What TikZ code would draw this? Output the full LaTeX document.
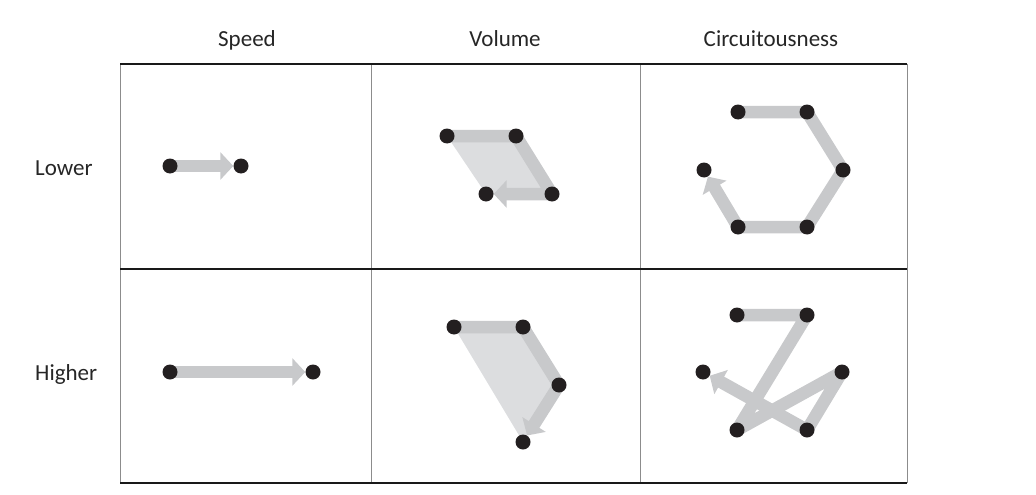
\documentclass[tikz,border=0pt]{standalone}
\usepackage{fontspec}
\setmainfont{Carlito}
\usetikzlibrary{arrows.meta,backgrounds}
\definecolor{trail}{HTML}{C8C9CB}
\definecolor{area}{HTML}{DCDDDF}
\definecolor{spot}{HTML}{231F20}
\begin{document}
\begin{tikzpicture}[x=1pt,y=-1pt,
  dot/.style={circle,fill=spot,inner sep=0pt,minimum size=15pt},
  trip/.style={draw=trail,line width=12.5pt,line join=bevel,
    -{Triangle[length=13pt,width=27pt]}},
  leg/.style={draw=trail,line width=12.5pt,line join=bevel},
  hline/.style={line width=1.1pt,black!90},
  vline/.style={line width=1pt,black!45},
  lab/.style={font=\fontsize{23}{27}\selectfont,text=black!85,inner sep=0pt}]
\useasboundingbox (0,0) rectangle (1036,495);

% table
\draw[vline] (120,64) -- (120,483);
\draw[vline] (371,64) -- (371,483);
\draw[vline] (640,64) -- (640,483);
\draw[vline] (907,64) -- (907,483);
\draw[hline] (120,64) -- (907,64);
\draw[hline] (120,269) -- (907,269);
\draw[hline] (120,483) -- (907,483);

\node[lab,anchor=base] (speed) at (247,47) {Speed};
\node[lab,anchor=base] (volume) at (505,47) {Volume};
\node[lab,anchor=base] (circ) at (771,47) {Circuitousness};
\node[lab,anchor=base west] (lower) at (35,175) {Lower};
\node[lab,anchor=base west] (higher) at (35,380) {Higher};

% speed
\node[dot] (sl1) at (170,166) {};
\node[dot] (sl2) at (241,166) {};
\node[dot] (sh1) at (170,372) {};
\node[dot] (sh2) at (313,372) {};

% volume
\node[dot] (vl1) at (447,136) {};
\node[dot] (vl2) at (516,136) {};
\node[dot] (vl3) at (552,194) {};
\node[dot] (vl4) at (486,194) {};
\node[dot] (vh1) at (454,327) {};
\node[dot] (vh2) at (523,327) {};
\node[dot] (vh3) at (559,385) {};
\node[dot] (vh4) at (523,442) {};

% circuitousness
\node[dot] (cl1) at (738,112) {};
\node[dot] (cl2) at (807,112) {};
\node[dot] (cl3) at (843,170) {};
\node[dot] (cl4) at (807,227) {};
\node[dot] (cl5) at (738,227) {};
\node[dot] (cl6) at (704,170) {};
\node[dot] (ch1) at (737,315) {};
\node[dot] (ch2) at (807,315) {};
\node[dot] (ch3) at (842,372) {};
\node[dot] (ch4) at (807,430) {};
\node[dot] (ch5) at (737,430) {};
\node[dot] (ch6) at (703,372) {};

\begin{scope}[on background layer]
\fill[area] (vl1.center) -- (vl2.center) -- (vl3.center) -- (vl4.center) -- cycle;
\fill[area] (vh1.center) -- (vh2.center) -- (vh3.center) -- (vh4.center) -- cycle;
\draw[trip] (sl1.center) -- (sl2);
\draw[trip] (sh1.center) -- (sh2);
\draw[trip] (vl1.center) -- (vl2.center) -- (vl3.center) -- (vl4);
\draw[trip] (vh1.center) -- (vh2.center) -- (vh3.center) -- (vh4);
\draw[trip] (cl1.center) -- (cl2.center) -- (cl3.center) -- (cl4.center) -- (cl5.center) -- (cl6);
\draw[leg] (ch1.center) -- (ch2.center) -- (ch5.center) -- (ch3.center) -- (ch4.center);
\draw[trip] (ch4.center) -- (ch6);
\end{scope}
\end{tikzpicture}
\end{document}
